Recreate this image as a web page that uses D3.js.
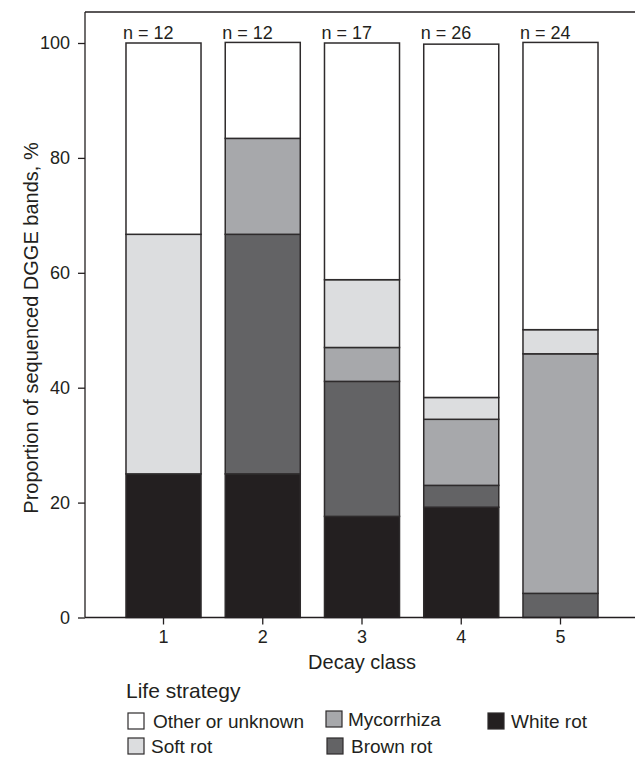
<!DOCTYPE html>
<html>
<head>
<meta charset="utf-8">
<script src="https://cdn.jsdelivr.net/npm/d3@7"></script>
<style>
  body { margin: 0; background: #fff; }
  svg text { font-family: "Liberation Sans", Arial, sans-serif; fill: #231f20; }
</style>
</head>
<body>
<svg id="chart" width="635" height="757"></svg>
<script>
// Decay classes and number of sequenced bands per class
const classes = ["1", "2", "3", "4", "5"];
const bandCounts = [12, 12, 17, 26, 24];

// Proportion (%) of sequenced bands per life strategy, stacked bottom to top
const whiteRot  = [25.0, 25.0, 17.6, 19.2, 0.0];
const brownRot  = [0.0, 41.7, 23.5, 3.8, 4.2];
const mycorrhiza = [0.0, 16.7, 5.9, 11.5, 41.7];
const softRot   = [41.7, 0.0, 11.8, 3.8, 4.2];
const otherUnknown = [33.3, 16.7, 41.2, 61.5, 50.0];

const yTicks = [0, 20, 40, 60, 80, 100];

const strategies = [
  { key: "White rot", values: whiteRot, color: "#231f20" },
  { key: "Brown rot", values: brownRot, color: "#636365" },
  { key: "Mycorrhiza", values: mycorrhiza, color: "#a7a8ab" },
  { key: "Soft rot", values: softRot, color: "#dcdddf" },
  { key: "Other or unknown", values: otherUnknown, color: "#ffffff" }
];

const rows = classes.map((c, i) => {
  const r = { cls: c };
  strategies.forEach(s => { r[s.key] = s.values[i]; });
  return r;
});

const svg = d3.select("#chart");
const frame = { left: 85, right: 635, top: 12, bottom: 617.5 };

const x = d3.scaleBand()
  .domain(classes)
  .range([frame.left, 639])
  .paddingInner(0.244)
  .paddingOuter(0.413);

const y = d3.scaleLinear().domain([0, 100]).range([frame.bottom, 43]);

const stack = d3.stack().keys(strategies.map(s => s.key));
const layers = stack(rows);
const colorOf = Object.fromEntries(strategies.map(s => [s.key, s.color]));

// stacked bars
svg.append("g").selectAll("g")
  .data(layers)
  .join("g")
  .attr("fill", d => colorOf[d.key])
  .selectAll("rect")
  .data(d => d.filter(p => p[1] - p[0] > 0))
  .join("rect")
  .attr("x", d => x(d.data.cls))
  .attr("width", x.bandwidth())
  .attr("y", d => y(d[1]))
  .attr("height", d => y(d[0]) - y(d[1]))
  .attr("stroke", "#2e2b2c")
  .attr("stroke-width", 1.5);

// plot frame: left, top and bottom lines (open on the right)
const frameLines = svg.append("g").attr("stroke", "#231f20").attr("stroke-width", 1.3);
frameLines.append("line").attr("x1", frame.left).attr("x2", frame.left).attr("y1", frame.top).attr("y2", frame.bottom);
frameLines.append("line").attr("x1", frame.left).attr("x2", frame.right).attr("y1", frame.top).attr("y2", frame.top);
frameLines.append("line").attr("x1", frame.left).attr("x2", frame.right).attr("y1", frame.bottom).attr("y2", frame.bottom);

// y axis
const yAxis = d3.axisLeft(y).tickValues(yTicks).tickSize(7).tickPadding(8);
const gy = svg.append("g").attr("transform", `translate(${frame.left},0)`).call(yAxis);
gy.select(".domain").remove();
gy.selectAll("line").attr("stroke", "#231f20").attr("stroke-width", 1.3);
gy.selectAll("text").attr("font-size", 18).style("fill", "#231f20");

// x axis
const xAxis = d3.axisBottom(x).tickSize(7).tickPadding(6);
const gx = svg.append("g").attr("transform", `translate(0,${frame.bottom})`).call(xAxis);
gx.select(".domain").remove();
gx.selectAll("line").attr("stroke", "#231f20").attr("stroke-width", 1.3);
gx.selectAll("text").attr("font-size", 18).style("fill", "#231f20");

// n labels above bars
svg.append("g").selectAll("text")
  .data(classes)
  .join("text")
  .attr("x", d => x(d) - 3)
  .attr("y", 39)
  .attr("font-size", 18)
  .text((d, i) => `n = ${bandCounts[i]}`);

// axis titles
svg.append("text")
  .attr("transform", `translate(38,328) rotate(-90)`)
  .attr("text-anchor", "middle")
  .attr("font-size", 20)
  .text("Proportion of sequenced DGGE bands, %");

svg.append("text")
  .attr("x", x("3") + x.bandwidth() / 2)
  .attr("y", 669)
  .attr("text-anchor", "middle")
  .attr("font-size", 20)
  .text("Decay class");

// legend
const legend = svg.append("g");
legend.append("text").attr("x", 126).attr("y", 698).attr("font-size", 21).text("Life strategy");
const legendItems = [
  { key: "Other or unknown", lx: 128, ly: 713, tx: 25 },
  { key: "Mycorrhiza", lx: 326, ly: 711, tx: 22 },
  { key: "White rot", lx: 488, ly: 713, tx: 23 },
  { key: "Soft rot", lx: 128, ly: 738, tx: 23 },
  { key: "Brown rot", lx: 327, ly: 738, tx: 24 }
];
const li = legend.selectAll("g.item").data(legendItems).join("g").attr("class", "item")
  .attr("transform", d => `translate(${d.lx},${d.ly})`);
li.append("rect")
  .attr("width", 16).attr("height", 16)
  .attr("fill", d => colorOf[d.key])
  .attr("stroke", "#2e2b2c").attr("stroke-width", 1.2);
li.append("text")
  .attr("x", d => d.tx).attr("y", 15)
  .attr("font-size", 19)
  .text(d => d.key);
</script>
</body>
</html>
